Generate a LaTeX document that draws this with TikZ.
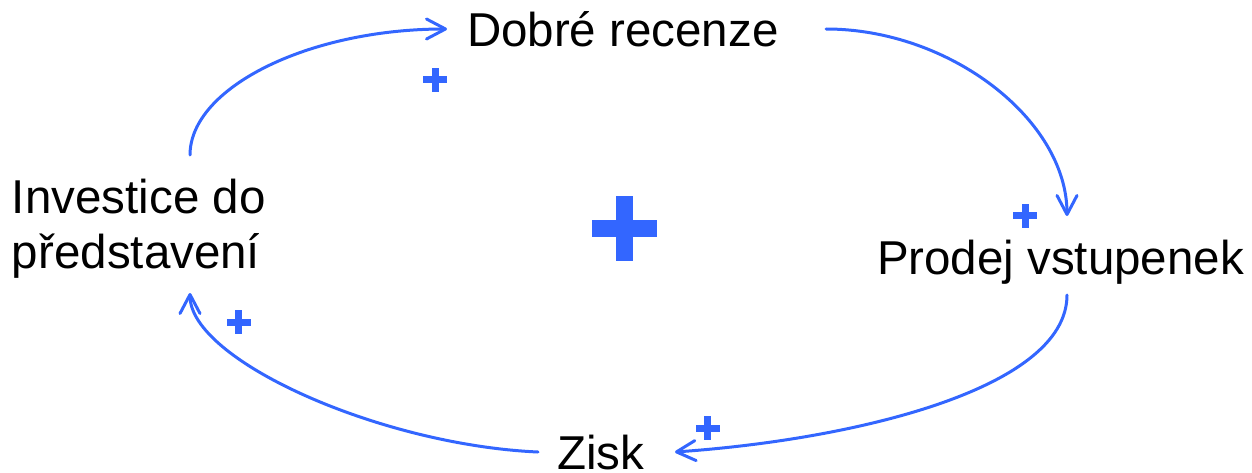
\documentclass[tikz,border=0pt]{standalone}
\usepackage{fontspec}
\setmainfont{Liberation Sans}
\usetikzlibrary{arrows.meta}
\definecolor{loopblue}{RGB}{51,102,255}
\tikzset{
  lbl/.style={inner sep=0pt, outer sep=0pt, font=\fontsize{47.5}{54.6}\selectfont, text=black},
  link/.style={draw=loopblue, line width=3pt, line cap=round,
    -{Straight Barb[length=19pt,width=20pt,line width=3pt,round]}},
  pics/polarity/.style n args={2}{code={
    \fill[loopblue] (-#1/2,-#2/2) rectangle (#1/2,#2/2);
    \fill[loopblue] (-#2/2,-#1/2) rectangle (#2/2,#1/2);
  }}
}
\begin{document}
\begin{tikzpicture}[x=1pt,y=-1pt]
\useasboundingbox (0,0) rectangle (1252,473);
% labels
\node[lbl, anchor=base west] (dob) at (467,46.5) {Dobré recenze};
\node[lbl, anchor=base west, align=left] (inv) at (12,268.5) {Investice do\\představení};
\node[lbl, anchor=base west] (pro) at (877,274) {Prodej vstupenek};
\node[lbl, anchor=base west] (zis) at (557,469.5) {Zisk};
% connector ends
\coordinate (inv-out) at (190,155);
\coordinate (dob-in) at (447,29);
\coordinate (dob-out) at (826,29);
\coordinate (pro-in) at (1067,216);
\coordinate (pro-out) at (1067,295);
\coordinate (zis-in) at (675,452);
\coordinate (zis-out) at (538,452);
\coordinate (inv-in) at (190,293);
% connectors
\draw[link] (inv-out) .. controls (190,88) and (308,29) .. (dob-in);
\draw[link] (dob-out) .. controls (950,29) and (1067,120) .. (pro-in);
\draw[link] (pro-out) .. controls (1067,390) and (850,440) .. (zis-in);
\draw[link] (zis-out) .. controls (380,445) and (190,360) .. (inv-in);
% polarity signs
\pic (p1) at (435,80) {polarity={24}{7}};
\pic (p2) at (1025,215.5) {polarity={24}{7}};
\pic (p3) at (238.5,322) {polarity={24}{7}};
\pic (p4) at (707.5,428) {polarity={24}{7}};
\pic (loop) at (624.5,228.5) {polarity={65}{16.5}};
\end{tikzpicture}
\end{document}
